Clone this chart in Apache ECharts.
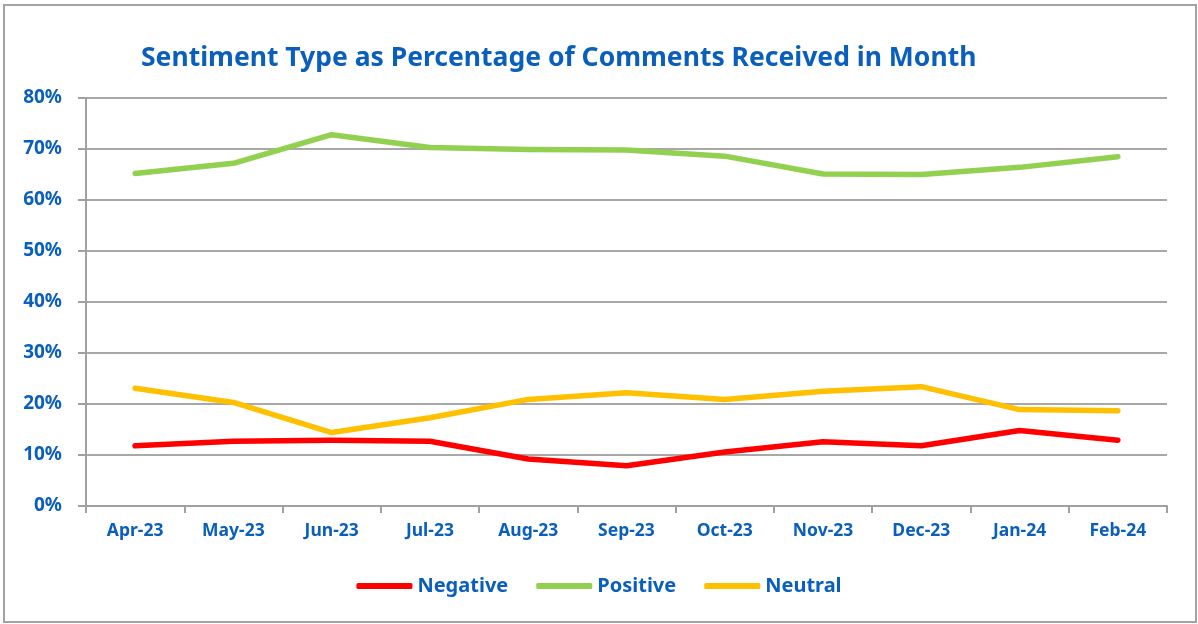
<!DOCTYPE html>
<html>
<head>
<meta charset="utf-8">
<script src="https://cdn.jsdelivr.net/npm/echarts@6/dist/echarts.min.js"></script>
<style>
  html, body { margin: 0; padding: 0; background: #fff; }
  #chart { width: 1198px; height: 624px; }
  .frame {
    position: absolute; left: 3px; top: 4px; width: 1190px; height: 615px;
    border: 2px solid #a3a3a3; pointer-events: none;
  }
</style>
</head>
<body>
<div id="chart"></div>
<div class="frame"></div>
<script>
// months on the x axis
const months = ["Apr-23", "May-23", "Jun-23", "Jul-23", "Aug-23", "Sep-23",
  "Oct-23", "Nov-23", "Dec-23", "Jan-24", "Feb-24"];
// share of comments per sentiment (%)
const negative = [11.8, 12.7, 12.9, 12.7, 9.2, 7.9, 10.6, 12.6, 11.8, 14.8, 12.9];
const positive = [65.2, 67.2, 72.8, 70.3, 69.9, 69.8, 68.6, 65.1, 65.0, 66.4, 68.5];
const neutral = [23.1, 20.3, 14.4, 17.3, 20.9, 22.2, 20.9, 22.5, 23.4, 18.9, 18.7];

const blue = "#0a5fbd";
const font = "'Noto Sans', sans-serif";

const chart = echarts.init(document.getElementById("chart"));

function line(name, data, color) {
  return {
    name: name,
    type: "line",
    data: data,
    symbol: "none",
    color: color,
    lineStyle: { width: 5.5, color: color, cap: "round", join: "round" },
  };
}

chart.setOption({
  animation: false,
  title: {
    text: "Sentiment Type as Percentage of Comments Received in Month",
    left: 136,
    top: 40,
    textStyle: { color: blue, fontFamily: font, fontWeight: "bold", fontSize: 26.5 },
  },
  legend: {
    top: 571,
    left: "center",
    itemWidth: 56,
    itemHeight: 6,
    itemGap: 28,
    icon: "roundRect",
    data: ["Negative", "Positive", "Neutral"],
    textStyle: { color: blue, fontFamily: font, fontWeight: "bold", fontSize: 20 },
  },
  grid: { left: 86, right: 31, top: 98, bottom: 118, containLabel: false },
  xAxis: {
    type: "category",
    data: months,
    boundaryGap: true,
    axisLine: { lineStyle: { color: "#a0a0a0", width: 2 } },
    axisTick: { show: true, length: 7, lineStyle: { color: "#a0a0a0", width: 2 } },
    axisLabel: { color: blue, fontFamily: font, fontWeight: "bold", fontSize: 17.5, margin: 16 },
  },
  yAxis: {
    type: "value",
    min: 0,
    max: 80,
    interval: 10,
    axisLine: { show: true, lineStyle: { color: "#a0a0a0", width: 2 } },
    axisTick: { show: true, length: 8, lineStyle: { color: "#a0a0a0", width: 2 } },
    axisLabel: {
      color: blue, fontFamily: font, fontWeight: "bold", fontSize: 19, margin: 24,
      formatter: "{value}%",
    },
    splitLine: { lineStyle: { color: "#a8a8a8", width: 2 } },
  },
  series: [
    line("Negative", negative, "#ff0000"),
    line("Positive", positive, "#92d050"),
    line("Neutral", neutral, "#ffc000"),
  ],
});
</script>
</body>
</html>
